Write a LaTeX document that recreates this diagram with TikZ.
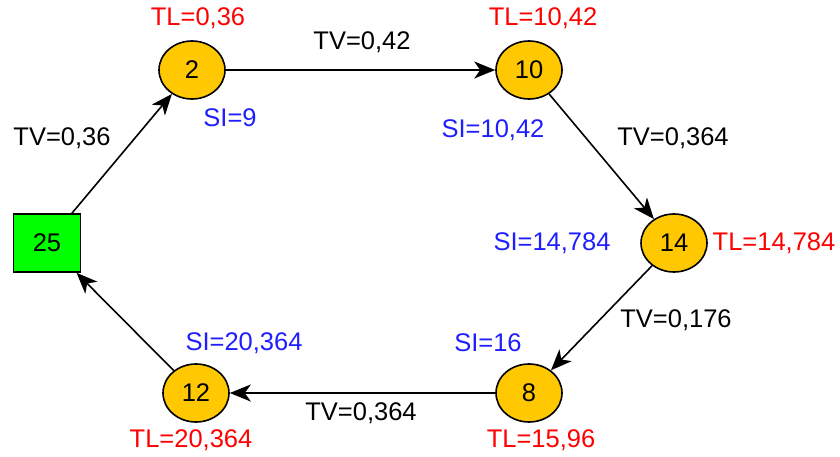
\documentclass[tikz,border=0pt]{standalone}
\usepackage{fontspec}
\setmainfont{Liberation Sans}
\usetikzlibrary{arrows.meta,shapes.geometric}
\definecolor{nodefill}{HTML}{FFC800}
\definecolor{sqfill}{HTML}{00FF00}
\definecolor{tlred}{HTML}{FF0000}
\definecolor{siblue}{HTML}{1E1EFF}
\begin{document}
\begin{tikzpicture}[x=1pt,y=-1pt,
  every node/.style={font=\fontsize{25.5}{27}\selectfont},
  event/.style={ellipse,draw=black,line width=1.6pt,fill=nodefill,minimum width=66pt,minimum height=58pt,inner sep=0pt},
  start/.style={rectangle,draw=black,line width=1.6pt,fill=sqfill,minimum width=67pt,minimum height=58pt,inner sep=0pt},
  tl/.style={text=tlred},
  si/.style={text=siblue},
  tv/.style={text=black},
  link/.style={draw=black,line width=1.6pt,-{Stealth[length=21pt,width=17pt,inset=6pt]}}]
\useasboundingbox (0,0) rectangle (840,457);

% events
\node[start] (n25) at (47,243) {25};
\node[event] (n2)  at (192,70) {2};
\node[event] (n10) at (529,70) {10};
\node[event] (n14) at (674,243) {14};
\node[event] (n8)  at (529,393) {8};
\node[event] (n12) at (196,393) {12};

% activities
\draw[link] (n25) -- (n2);
\draw[link] (n2) -- (n10);
\draw[link] (n10) -- (n14);
\draw[link] (n14) -- (n8);
\draw[link] (n8) -- (n12);
\draw[link] (n12) -- (n25);

% latest times
\node[tl] (tl2)  at (198,18) {TL=0,36};
\node[tl] (tl10) at (543,18) {TL=10,42};
\node[tl] (tl14) at (774,243) {TL=14,784};
\node[tl] (tl8)  at (541,440) {TL=15,96};
\node[tl] (tl12) at (191,440) {TL=20,364};

% slack intervals
\node[si] (si2)  at (230,118) {SI=9};
\node[si] (si10) at (493,130) {SI=10,42};
\node[si] (si14) at (552,243) {SI=14,784};
\node[si] (si8)  at (488,343) {SI=16};
\node[si] (si12) at (244,343) {SI=20,364};

% activity values
\node[tv] (tv1) at (62,138)  {TV=0,36};
\node[tv] (tv2) at (362,42)  {TV=0,42};
\node[tv] (tv3) at (673,138) {TV=0,364};
\node[tv] (tv4) at (676,320) {TV=0,176};
\node[tv] (tv5) at (361,413) {TV=0,364};
\end{tikzpicture}
\end{document}
